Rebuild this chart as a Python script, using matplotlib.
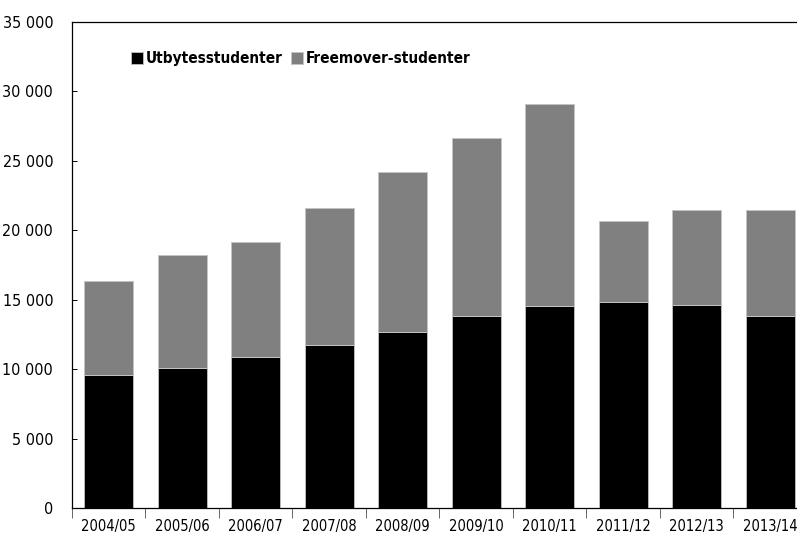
import matplotlib
matplotlib.use("Agg")
import matplotlib.pyplot as plt
from matplotlib import font_manager as fm
from matplotlib.ticker import FuncFormatter, FixedLocator
import numpy as np

# Students going abroad per academic year
years = ["2004/05", "2005/06", "2006/07", "2007/08", "2008/09",
         "2009/10", "2010/11", "2011/12", "2012/13", "2013/14"]
utbytes = [9600, 10100, 10850, 11750, 12650, 13800, 14550, 14800, 14650, 13800]
freemover = [6750, 8100, 8280, 9880, 11580, 12870, 14520, 5850, 6830, 7660]
series_labels = ["Utbytesstudenter", "Freemover-studenter"]
y_ticks = [0, 5000, 10000, 15000, 20000, 25000, 30000, 35000]

# pick a narrow sans face if one is installed
family, stretch = "DejaVu Sans", "normal"
for f in fm.fontManager.ttflist:
    narrow = ("Narrow" in f.name or "Condensed" in f.name
              or str(f.stretch) in ("condensed", "semi-condensed", "extra-condensed"))
    if narrow:
        family, stretch = f.name, f.stretch
        break

plt.rcParams["font.family"] = [family, "DejaVu Sans"]
plt.rcParams["font.stretch"] = stretch

fig = plt.figure(figsize=(7.97, 5.38), dpi=100)
ax = fig.add_axes([0.0903, 0.0558, 0.9222, 0.9033])

x = np.arange(len(years))
w = 0.667
ax.bar(x, utbytes, width=w, color="#000000", edgecolor="#b8b8b8",
       linewidth=0.7, label=series_labels[0], zorder=2)
ax.bar(x, freemover, width=w, bottom=utbytes, color="#808080",
       edgecolor="#c4c4c4", linewidth=0.7, label=series_labels[1], zorder=2)

ax.set_xlim(-0.5, len(years) - 0.5)
ax.set_ylim(0, 35000)

ax.set_yticks(y_ticks)
ax.yaxis.set_major_formatter(FuncFormatter(lambda v, p: f"{int(v):,}".replace(",", " ")))
ax.tick_params(axis="y", direction="in", length=3.6, width=0.7, labelsize=11.5,
               pad=13.5, colors="#000000")

ax.set_xticks(x)
ax.set_xticklabels(years)
ax.tick_params(axis="x", which="major", length=0, labelsize=10.5, pad=8)
ax.xaxis.set_minor_locator(FixedLocator(np.arange(-0.5, len(years) - 0.4, 1.0)))
ax.tick_params(axis="x", which="minor", direction="out", length=7, width=0.7,
               color="#666666")

for s in ax.spines.values():
    s.set_linewidth(0.9)
    s.set_color("#000000")

ax.legend(loc="upper left", bbox_to_anchor=(0.08, 0.94), ncol=2, frameon=False,
          handlelength=0.8, handleheight=0.8, handletextpad=0.2,
          columnspacing=0.5, borderaxespad=0, borderpad=0,
          prop={"weight": "bold", "size": 11})

fig.savefig("out.png", dpi=100)
